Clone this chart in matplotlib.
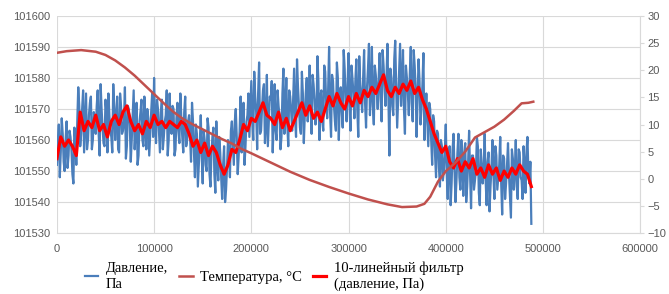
import matplotlib.pyplot as plt
import numpy as np

# давление, сырые точки (чётные тысячи, шаг 2000)
p_even = [101552, 101565, 101556, 101562, 101550, 101566, 101555, 101561, 101549, 101564, 101552,
          101577, 101558, 101570, 101556, 101575, 101560, 101572, 101557, 101569, 101562, 101576, 101555, 101570, 101559, 101573, 101556, 101568, 101561, 101578,
          101560, 101574, 101556, 101571, 101563, 101577, 101558, 101570, 101553, 101568, 101557, 101572, 101555, 101569, 101560, 101574, 101557, 101567, 101562, 101575,
          101580, 101559, 101570, 101556, 101573, 101561, 101568, 101555, 101575, 101562, 101570, 101557, 101572, 101559, 101567, 101556, 101574, 101560, 101568, 101553,
          101566, 101548, 101562, 101552, 101568, 101546, 101560, 101550, 101564, 101545, 101561, 101549, 101566, 101547, 101556, 101541, 101558, 101544, 101560, 101548,
          101566, 101552, 101570, 101549, 101563, 101556, 101572, 101558, 101568, 101561,
          101579, 101560, 101574, 101557, 101585, 101563, 101576, 101559, 101581, 101566, 101573, 101556, 101578, 101560, 101571, 101557, 101575, 101562, 101580, 101558,
          101574, 101563, 101583, 101561, 101577, 101564, 101582, 101559, 101575, 101566,
          101584, 101562, 101578, 101565, 101587, 101560, 101576, 101563, 101582, 101567, 101590, 101561, 101579, 101566, 101585, 101560, 101577, 101564, 101583, 101566,
          101588, 101563, 101580, 101567, 101586, 101561, 101578, 101569, 101589, 101564, 101583, 101568, 101590, 101565, 101581, 101570, 101588, 101566, 101584, 101571,
          101591, 101555, 101580, 101568, 101592, 101564, 101583, 101571, 101589, 101562, 101580, 101568, 101590, 101566, 101584, 101561, 101586, 101565, 101578, 101560,
          101575, 101558, 101570, 101552, 101566, 101548, 101562, 101545, 101558, 101550,
          101565, 101541, 101558, 101546, 101562, 101540, 101556, 101548, 101560, 101542, 101559, 101545, 101563, 101538, 101555, 101547, 101561, 101543, 101557, 101546,
          101562, 101539, 101556, 101545, 101560, 101541, 101555, 101548, 101561, 101536, 101554, 101546, 101559, 101542, 101557, 101544, 101560, 101541, 101556, 101547,
          101558, 101543, 101561, 101546, 101533]
t_even = list(range(0, 490000, 2000))

# нечётные тысячи
p_odd = [101559, 101548, 101567, 101553, 101560, 101551, 101563, 101557, 101546, 101560,
         101566, 101571, 101562, 101576, 101565, 101557, 101568, 101574, 101560, 101566, 101571, 101562, 101578, 101564, 101558, 101569, 101575, 101563, 101556, 101570,
         101568, 101557, 101575, 101562, 101566, 101554, 101571, 101565, 101560, 101576, 101563, 101552, 101566, 101573, 101558, 101564, 101570, 101555, 101569, 101561,
         101565, 101573, 101563, 101569, 101557, 101566, 101576, 101560, 101564, 101571, 101555, 101567, 101563, 101575, 101561, 101569, 101558, 101566, 101561, 101572,
         101556, 101565, 101545, 101559, 101555, 101563, 101552, 101567, 101549, 101556, 101564, 101543, 101553, 101561, 101548, 101552, 101540, 101551, 101555, 101563,
         101559, 101566, 101561, 101555, 101574, 101563, 101552, 101566, 101575, 101570,
         101566, 101582, 101569, 101575, 101562, 101570, 101578, 101565, 101558, 101574, 101579, 101566, 101563, 101576, 101568, 101561, 101583, 101570, 101565, 101576,
         101569, 101573, 101567, 101586, 101571, 101562, 101575, 101568, 101580, 101572,
         101570, 101581, 101573, 101568, 101579, 101574, 101566, 101584, 101572, 101576, 101569, 101581, 101571, 101563, 101580, 101575, 101569, 101589, 101573, 101578,
         101571, 101584, 101575, 101579, 101570, 101587, 101574, 101580, 101572, 101577, 101591, 101575, 101571, 101584, 101576, 101580, 101573, 101589, 101577, 101580,
         101574, 101583, 101571, 101586, 101577, 101573, 101591, 101578, 101570, 101584, 101575, 101581, 101572, 101589, 101577, 101574, 101579, 101570, 101588, 101568,
         101566, 101572, 101560, 101568, 101555, 101563, 101551, 101560, 101547, 101556,
         101549, 101555, 101539, 101557, 101550, 101547, 101562, 101544, 101552, 101556, 101540, 101553, 101549, 101555, 101544, 101550, 101558, 101539, 101552, 101550,
         101547, 101553, 101537, 101551, 101549, 101558, 101544, 101552, 101546, 101555, 101541, 101552, 101549, 101535, 101554, 101550, 101545, 101557, 101548, 101541,
         101552, 101556, 101549, 101553]
t_odd = list(range(1000, 488000, 2000))

# 10-линейный фильтр (шаг 4000)
p_filt = [101554, 101561, 101558, 101560, 101558, 101555, 101569, 101563, 101566, 101564,
          101568, 101563, 101565, 101561, 101566, 101568, 101565, 101569, 101571, 101566,
          101563, 101565, 101562, 101566, 101564, 101568, 101565, 101566, 101564, 101566,
          101565, 101564, 101566, 101565, 101562, 101558, 101560, 101556, 101559, 101555,
          101558, 101556, 101552, 101549, 101552, 101557, 101556, 101560, 101565, 101563,
          101567, 101566, 101569, 101572, 101568, 101567, 101565, 101569, 101564, 101567,
          101563, 101566, 101569, 101572, 101568, 101571, 101567, 101569, 101566, 101570,
          101574, 101571, 101575, 101572, 101570, 101574, 101571, 101575, 101572, 101576,
          101574, 101577, 101575, 101578, 101581, 101576, 101574, 101577, 101575, 101578,
          101576, 101579, 101575, 101577, 101573, 101570, 101566, 101562, 101559, 101556,
          101558, 101553, 101551, 101554, 101550, 101553, 101551, 101554, 101549, 101551,
          101548, 101552, 101549, 101551, 101547, 101550, 101548, 101551, 101549, 101552,
          101550, 101549, 101545]
t_filt = list(range(0, 490000, 4000))

# температура
t_temp = [0, 10000, 25000, 40000, 50000, 60000, 70000, 80000, 90000, 100000, 110000, 120000,
          130000, 140000, 150000, 160000, 170000, 180000, 190000, 200000, 220000, 240000,
          260000, 280000, 300000, 320000, 340000, 355000, 370000, 378000, 384000, 392000,
          400000, 410000, 420000, 430000, 440000, 450000, 460000, 470000, 478000, 485000, 490000]
temp = [23.2, 23.5, 23.7, 23.4, 22.8, 21.8, 20.5, 19.0, 17.3, 15.6, 13.9, 12.3,
        11.0, 10.0, 9.1, 8.2, 7.3, 6.5, 5.5, 4.7, 3.0, 1.3,
        -0.2, -1.5, -2.7, -3.8, -4.7, -5.2, -5.1, -4.6, -3.3, -0.5,
        1.4, 3.0, 5.0, 7.6, 8.6, 9.6, 10.9, 12.5, 13.9, 14.0, 14.2]

# сливаем чётные и нечётные точки
pairs = sorted(zip(t_even + t_odd, p_even + p_odd))
t_raw = [a for a, b in pairs]
p_raw = [b for a, b in pairs]

gray = '#595959'
fig = plt.figure(figsize=(6.69, 2.94), dpi=100)
ax = fig.add_axes([0.085, 0.207, 0.872, 0.739])
ax2 = ax.twinx()

l1, = ax.plot(t_raw, p_raw, color='#4A7EBB', lw=1.6)
l3, = ax.plot(t_filt, p_filt, color='#FF0000', lw=2.3)
l2, = ax2.plot(t_temp, temp, color='#C0504D', lw=1.8)

ax.set_xlim(0, 600000)
ax.set_ylim(101530, 101600)
ax.set_yticks(np.arange(101530, 101601, 10))
ax.set_xticks(np.arange(0, 600001, 100000))
ax2.set_ylim(-10, 30)
ax2.set_yticks(np.arange(-10, 31, 5))

ax.grid(True, color='#D9D9D9', lw=0.8)
ax.set_axisbelow(True)
for s in ['top', 'left', 'right']:
    ax.spines[s].set_visible(False)
ax.spines['bottom'].set_color('#D9D9D9')
for s in ['top', 'left', 'bottom']:
    ax2.spines[s].set_visible(False)
ax2.spines['right'].set_color('#D9D9D9')

ax.tick_params(axis='both', length=0, labelsize=8, labelcolor=gray, pad=5)
ax.tick_params(axis='x', pad=8)
ax2.tick_params(axis='y', length=3, color='#D9D9D9', labelsize=8, labelcolor=gray, pad=2)
for lab in ax.get_xticklabels() + ax.get_yticklabels() + ax2.get_yticklabels():
    lab.set_fontfamily('Liberation Sans')
ax.ticklabel_format(useOffset=False, style='plain')

leg = fig.legend([l1, l2, l3], ['Давление,\nПа', 'Температура, °C', '10-линейный фильтр\n(давление, Па)'],
                 loc='center', bbox_to_anchor=(0.41, 0.06), ncol=3, frameon=False,
                 prop={'family': 'Liberation Serif', 'size': 10.5}, handlelength=0.9,
                 handletextpad=0.5, columnspacing=0.8, labelspacing=0.1)
for txt in leg.get_texts():
    txt.set_linespacing(1.3)

fig.savefig('out.png', dpi=100)
